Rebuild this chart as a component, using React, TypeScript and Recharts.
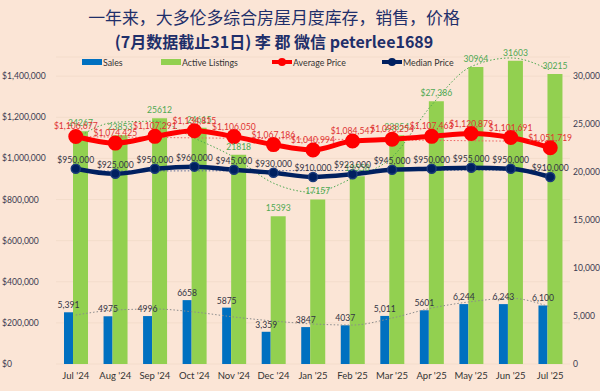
import React from "react";
import {
  ComposedChart,
  Bar,
  Line,
  XAxis,
  YAxis,
  CartesianGrid,
  LabelList,
} from "recharts";

const months = [
  "Jul '24", "Aug '24", "Sep '24", "Oct '24", "Nov '24", "Dec '24", "Jan '25",
  "Feb '25", "Mar '25", "Apr '25", "May '25", "Jun '25", "Jul '25",
];
const sales = [5391, 4975, 4996, 6658, 5875, 3359, 3847, 4037, 5011, 5601, 6244, 6243, 6100];
const salesText = ["5,391", "4975", "4996", "6658", "5875", "3,359", "3847", "4037", "5,011", "5601", "6,244", "6,243", "6,100"];
const listings = [24267, 23853, 25612, 24615, 21818, 15393, 17157, 19558, 23854, 27386, 30964, 31603, 30215];
const listingsText = ["24267", "23853", "25612", "24615", "21818", "15393", "17157", "19558", "23854", "$27,386", "30964", "31603", "30215"];
const avgPrice = [1106677, 1074425, 1107291, 1134815, 1106050, 1067186, 1040994, 1084547, 1093254, 1107463, 1120879, 1101691, 1051719];
const medianPrice = [950000, 925000, 950000, 960000, 945000, 930000, 910000, 923000, 945000, 950000, 955000, 950000, 910000];

// dotted trend lines
const listingsTrend = [23500, 25200, 25300, 23540, 21560, 18850, 17900, 19375, 21560, 26980, 31000, 31900, 30625];
const salesTrend = [5100, 5625, 5730, 5420, 4900, 4480, 4170, 4060, 4790, 5830, 6500, 6850, 5940];
const avgTrend = [1106000, 1104000, 1102000, 1100000, 1098000, 1096000, 1094000, 1092000, 1090000, 1088000, 1086000, 1084000, 1082000];
const medianTrend = [938000, 938500, 939000, 939500, 940000, 940500, 941000, 941500, 942000, 942500, 943000, 943500, 944000];

const leftTicks = [0, 200000, 400000, 600000, 800000, 1000000, 1200000, 1400000];
const rightTicks = [0, 5000, 10000, 15000, 20000, 25000, 30000];

const data = months.map((m, i) => ({
  month: m,
  sales: sales[i],
  salesText: salesText[i],
  listings: listings[i],
  listingsText: listingsText[i],
  avg: avgPrice[i],
  avgText: "$" + avgPrice[i].toLocaleString("en-US"),
  median: medianPrice[i],
  medianText: "$" + medianPrice[i].toLocaleString("en-US"),
  listingsTrend: listingsTrend[i],
  salesTrend: salesTrend[i],
  avgTrend: avgTrend[i],
  medianTrend: medianTrend[i],
}));

const FONT = "Lato, 'Liberation Sans', sans-serif";
const BG = "#FBE5D6";
const LBL = 8.6;

function LegendItem({ left, kind, color, label }: { left: number; kind: "bar" | "line"; color: string; label: string }) {
  return (
    <div style={{ position: "absolute", left, top: 55, height: 14, display: "flex", alignItems: "center" }}>
      <svg width={20} height={14}>
        {kind === "bar" ? (
          <rect x={0} y={4} width={20} height={6} fill={color} />
        ) : (
          <>
            <line x1={0} y1={7} x2={20} y2={7} stroke={color} strokeWidth={4} />
            <circle cx={10} cy={7} r={4} fill={color} />
          </>
        )}
      </svg>
      <span style={{ fontSize: 8.8, color: "#333", marginLeft: 1, fontFamily: FONT }}>{label}</span>
    </div>
  );
}

export default function App() {
  return (
    <div style={{ position: "relative", width: 600, height: 391, background: BG, overflow: "hidden" }}>
      <style>{`body{margin:0}`}</style>
      <div
        style={{
          position: "absolute", left: 0, width: 548, top: 4, textAlign: "center",
          fontFamily: "'Noto Sans CJK SC', sans-serif", color: "#1F2F6A", lineHeight: "25px",
        }}
      >
        <div style={{ fontSize: 16.9 }}>一年来，大多伦多综合房屋月度库存，销售，价格</div>
        <div style={{ fontSize: 16, fontWeight: 700 }}>(7月数据截止31日) 李 郡 微信 peterlee1689</div>
      </div>
      <LegendItem left={82} kind="bar" color="#0070C0" label="Sales" />
      <LegendItem left={161} kind="bar" color="#92D050" label="Active Listings" />
      <LegendItem left={272} kind="line" color="#FF0000" label="Average Price" />
      <LegendItem left={382} kind="line" color="#002060" label="Median Price" />
      <div style={{ position: "absolute", left: 0, top: 0 }}>
        <ComposedChart
          width={600}
          height={391}
          data={data}
          margin={{ top: 57, right: 0, left: 0, bottom: 0 }}
          barGap={0}
        >
          <CartesianGrid vertical={false} yAxisId="left" stroke="#F3DCCB" />
          <XAxis
            dataKey="month"
            height={27}
            tickLine={false}
            axisLine={false}
            tick={{ fontSize: 9.5, fill: "#333", fontFamily: FONT }}
            interval={0}
          />
          <YAxis
            yAxisId="left"
            width={56}
            domain={[0, 1493333]}
            ticks={leftTicks}
            tickLine={false}
            axisLine={false}
            tick={{ fontSize: LBL, fill: "#3A3A50", fontFamily: FONT, textAnchor: "start", dx: -46 }}
            tickFormatter={(v: number) => "$" + v.toLocaleString("en-US")}
          />
          <YAxis
            yAxisId="right"
            orientation="right"
            width={30}
            domain={[0, 32000]}
            ticks={rightTicks}
            tickLine={false}
            axisLine={false}
            tickSize={0}
            tickMargin={3}
            tick={{ fontSize: LBL, fill: "#3A3A50", fontFamily: FONT }}
            tickFormatter={(v: number) => v.toLocaleString("en-US")}
          />
          <Bar yAxisId="right" dataKey="sales" fill="#0070C0" barSize={9} isAnimationActive={false}>
            <LabelList dataKey="salesText" position="top" offset={4} fill="#333344" fontSize={LBL} fontFamily={FONT} />
          </Bar>
          <Bar yAxisId="right" dataKey="listings" fill="#92D050" barSize={15} isAnimationActive={false}>
            <LabelList dataKey="listingsText" position="top" offset={5} fill="#4EA852" fontSize={LBL} fontFamily={FONT} />
          </Bar>
          <Line yAxisId="right" dataKey="salesTrend" type="monotone" stroke="#8C8C8C" strokeWidth={1} strokeDasharray="1.5 2" dot={false} isAnimationActive={false} />
          <Line yAxisId="right" dataKey="listingsTrend" type="monotone" stroke="#4EA852" strokeWidth={1} strokeDasharray="1.5 2" dot={false} isAnimationActive={false} />
          <Line yAxisId="left" dataKey="avgTrend" type="linear" stroke="#F06060" strokeWidth={1} strokeDasharray="1.5 2" dot={false} isAnimationActive={false} />
          <Line yAxisId="left" dataKey="medianTrend" type="linear" stroke="#5A6A9A" strokeWidth={1} strokeDasharray="1.5 2" dot={false} isAnimationActive={false} />
          <Line
            yAxisId="left"
            dataKey="avg"
            type="monotone"
            stroke="#FF0000"
            strokeWidth={5}
            dot={{ r: 5, fill: "#FF0000", stroke: "#FF0000" }}
            isAnimationActive={false}
          >
            <LabelList dataKey="avgText" position="top" offset={7} fill="#E03232" fontSize={LBL} fontFamily={FONT} />
          </Line>
          <Line
            yAxisId="left"
            dataKey="median"
            type="monotone"
            stroke="#002060"
            strokeWidth={4.5}
            dot={{ r: 4.5, fill: "#002060", stroke: "#1A3A7A", strokeWidth: 1.5 }}
            isAnimationActive={false}
          >
            <LabelList dataKey="medianText" position="top" offset={6} fill="#333344" fontSize={LBL} fontFamily={FONT} />
          </Line>
        </ComposedChart>
      </div>
    </div>
  );
}
